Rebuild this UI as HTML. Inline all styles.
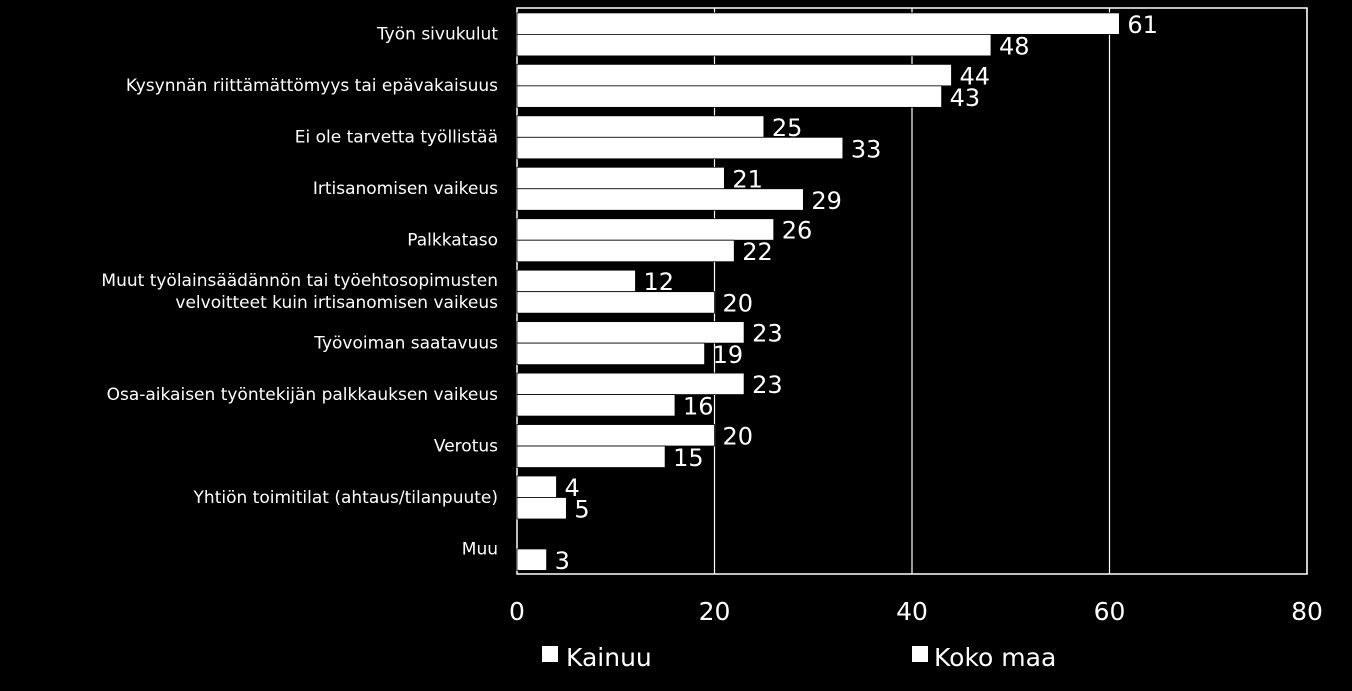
<!DOCTYPE html>
<html><head><meta charset="utf-8"><style>
html,body{margin:0;padding:0;background:#000;width:1352px;height:691px;overflow:hidden}
svg{display:block;font-family:"DejaVu Sans","Liberation Sans",sans-serif}
</style></head><body>
<svg id="c" width="1352" height="691"></svg>
<script>
const categories=["Työn sivukulut","Kysynnän riittämättömyys tai epävakaisuus","Ei ole tarvetta työllistää","Irtisanomisen vaikeus","Palkkataso","Muut työlainsäädännön tai työehtosopimusten|velvoitteet kuin irtisanomisen vaikeus","Työvoiman saatavuus","Osa-aikaisen työntekijän palkkauksen vaikeus","Verotus","Yhtiön toimitilat (ahtaus/tilanpuute)","Muu"];
const kainuu=[61,44,25,21,26,12,23,23,20,4,0];
const kokoMaa=[48,43,33,29,22,20,19,16,15,5,3];
const ticks=[0,20,40,60,80];
const seriesNames=["Kainuu","Koko maa"];
const NS="http://www.w3.org/2000/svg",svg=document.getElementById('c');
const L=517,R=1307,T=8,B=574,band=(B-T)/categories.length;
const x=v=>L+(R-L)*v/80;
function mk(t,a,p){const e=document.createElementNS(NS,t);for(const k in a)e.setAttribute(k,a[k]);(p||svg).appendChild(e);return e;}
ticks.forEach(t=>{if(t>0){const g=mk('line',{x1:x(t),x2:x(t),y1:T,y2:B,stroke:'#fff','stroke-width':1.2});

}
const tl=mk('text',{x:x(t),y:620,fill:'#fff','font-size':25,'text-anchor':'middle'});tl.textContent=t;

});
const fr=mk('rect',{x:L,y:T,width:R-L,height:B-T,fill:'none',stroke:'#fff','stroke-width':1.5});


categories.forEach((c,i)=>{
 const y0=T+i*band;
 [[kainuu[i],4.9],[kokoMaa[i],26.4]].forEach(([v,off],s)=>{
  if(v>0){const r=mk('rect',{x:L,y:y0+off,width:x(v)-L,height:21.5,fill:'#fff',stroke:'#000','stroke-width':0.8});
  
  
  const t=mk('text',{x:x(v)+8,y:y0+off+20,fill:'#fff','font-size':24});t.textContent=v;
  
  }
 });
 const lines=c.split('|');
 const lt=mk('text',{x:498,y:y0+band/2+6-(lines.length-1)*11,fill:'#fff','font-size':17,'text-anchor':'end'});
 
 
 lines.forEach((ln,j)=>{const ts=mk('tspan',{x:498,dy:j?22:0},lt);ts.textContent=ln;});
});
[[542,566],[912,934]].forEach(([sx,tx],i)=>{
 const sq=mk('rect',{x:sx,y:646,width:16,height:16,fill:'#fff'});
 
 
 const t=mk('text',{x:tx,y:666,fill:'#fff','font-size':25});t.textContent=seriesNames[i];
 
 
});
</script>
</body></html>
